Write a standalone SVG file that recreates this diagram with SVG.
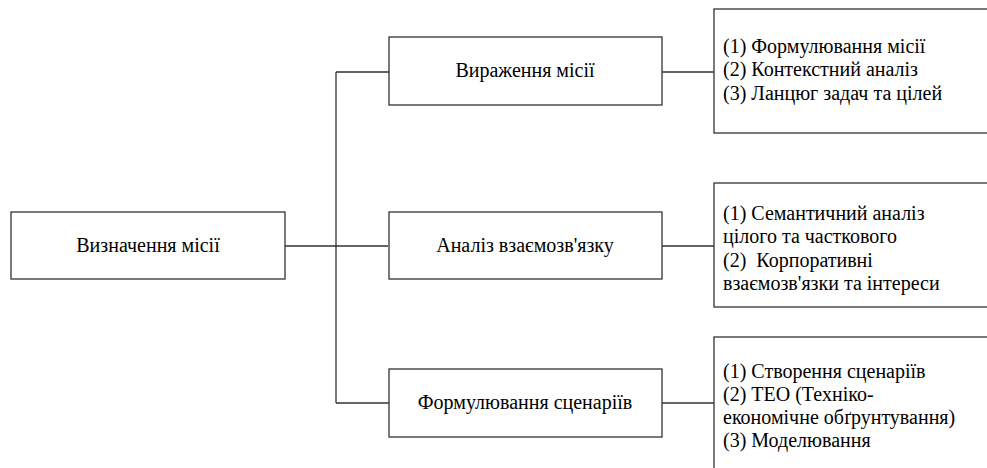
<svg xmlns="http://www.w3.org/2000/svg" width="987" height="468" viewBox="0 0 987 468" font-family="Liberation Serif, serif" font-size="20">
<style>
.box{fill:#fff;stroke:#333;stroke-width:1.3}
.ln{fill:none;stroke:#333;stroke-width:1.3}
</style>
<rect width="987" height="468" fill="#fff"/>
<g id="connectors">
<path class="ln" d="M285 246H388M336 72V403M336 72H389M336 403H389M662 72H714M662 246H714M662 403H714"/>
</g>
<g id="n-root"><rect class="box" x="11" y="212" width="274" height="67"/><text font-family="Liberation Serif" text-anchor="middle" x="148" y="252">Визначення місії</text></g>
<g id="n-expr"><rect class="box" x="389" y="37" width="273" height="68"/><text font-family="Liberation Serif" text-anchor="middle" x="525" y="77">Вираження місії</text></g>
<g id="n-anal"><rect class="box" x="389" y="212" width="273" height="67"/><text font-family="Liberation Serif" text-anchor="middle" x="525" y="252">Аналіз взаємозв'язку</text></g>
<g id="n-form"><rect class="box" x="389" y="369" width="273" height="68"/><text font-family="Liberation Serif" text-anchor="middle" x="525" y="409">Формулювання сценаріїв</text></g>
<g id="d-expr"><rect class="box" x="714" y="9" width="290" height="124"/>
<text font-family="Liberation Serif" x="723" y="53">(1) Формулювання місії</text>
<text font-family="Liberation Serif" x="723" y="76">(2) Контекстний аналіз</text>
<text font-family="Liberation Serif" x="723" y="100">(3) Ланцюг задач та цілей</text></g>
<g id="d-anal"><rect class="box" x="714" y="183" width="290" height="124"/>
<text font-family="Liberation Serif" x="723" y="220">(1) Семантичний аналіз</text>
<text font-family="Liberation Serif" x="723" y="243">цілого та часткового</text>
<text font-family="Liberation Serif" x="723" y="267">(2) <tspan dx="5">Корпоративні</tspan></text>
<text font-family="Liberation Serif" x="723" y="290">взаємозв'язки та інтереси</text></g>
<g id="d-form"><rect class="box" x="714" y="337" width="290" height="160"/>
<text font-family="Liberation Serif" x="723" y="378">(1) Створення сценаріїв</text>
<text font-family="Liberation Serif" x="723" y="401">(2) ТЕО (Техніко-</text>
<text font-family="Liberation Serif" x="723" y="424">економічне обґрунтування)</text>
<text font-family="Liberation Serif" x="723" y="447">(3) Моделювання</text></g>
</svg>
